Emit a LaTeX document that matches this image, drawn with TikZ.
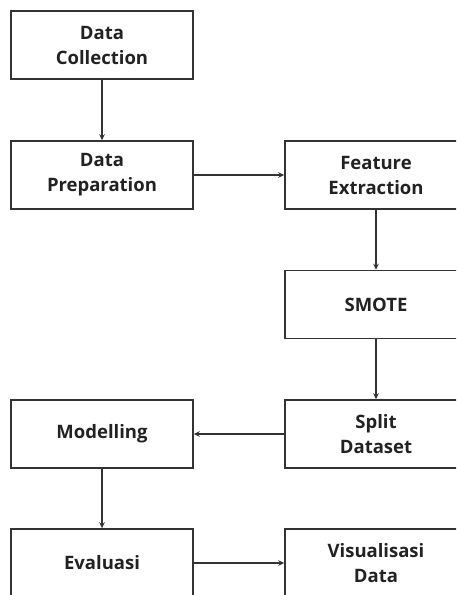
\documentclass[tikz,border=0pt]{standalone}
\usepackage{fontspec}
\setmainfont{Open Sans}
\usetikzlibrary{arrows.meta}
\definecolor{linec}{HTML}{333333}
\definecolor{textc}{HTML}{222222}
\tikzset{
  procbox/.style={draw=linec, line width=1.5pt, rectangle, minimum width=182pt, minimum height=68pt,
    inner sep=0pt, align=center, font=\fontsize{18.5}{25}\selectfont\bfseries, text=textc},
  flow/.style={draw=linec, line width=1.6pt, -{Stealth[length=6pt,width=5.5pt]}}
}
\begin{document}
\begin{tikzpicture}[x=1pt,y=-1pt]
\useasboundingbox (0,0) rectangle (456,595);
\clip (0,0) rectangle (456,595);
\node[procbox] (dc) at (102,45) {Data\\Collection};
\node[procbox] (dp) at (102,175) {Data\\Preparation};
\node[procbox] (fe) at (376,175) {Feature\\Extraction};
\node[procbox] (sm) at (376,304.5) {SMOTE};
\node[procbox] (sd) at (376,434) {Split\\Dataset};
\node[procbox] (mo) at (102,434) {Modelling};
\node[procbox] (ev) at (102,563) {Evaluasi};
\node[procbox] (vd) at (376,563) {Visualisasi\\Data};
\draw[flow] (dc) -- (dp);
\draw[flow] (dp) -- (fe);
\draw[flow] (fe) -- (sm);
\draw[flow] (sm) -- (sd);
\draw[flow] (sd) -- (mo);
\draw[flow] (mo) -- (ev);
\draw[flow] (ev) -- (vd);
\end{tikzpicture}
\end{document}
